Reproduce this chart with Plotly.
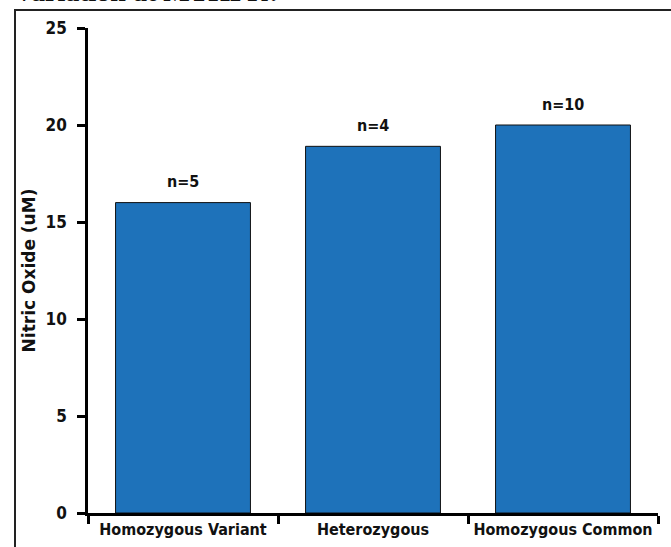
import plotly.graph_objects as go

categories = ["Homozygous Variant", "Heterozygous", "Homozygous Common"]
values = [16.0, 18.9, 20.0]
n_labels = ["n=5", "n=4", "n=10"]
y_ticks = [0, 5, 10, 15, 20, 25]

W, H = 671, 547
L, R, T, B = 88, 13, 28, 34
plot_w = W - L - R
plot_h = H - T - B

narrow = "DejaVu Sans Condensed, Liberation Sans Narrow, Arial Narrow, sans-serif"

fig = go.Figure()
fig.add_trace(go.Bar(
    x=categories, y=values,
    marker=dict(color="#1E72BA", line=dict(color="#111111", width=1)),
    cliponaxis=False,
))

for c, v, t in zip(categories, values, n_labels):
    fig.add_annotation(x=c, y=v, text=t, showarrow=False, yanchor="middle",
                       yshift=21,
                       font=dict(family=narrow, size=16, color="#111111", weight="bold"))

fig.update_layout(
    width=W, height=H,
    margin=dict(l=L, r=R, t=T, b=B, autoexpand=False),
    paper_bgcolor="white", plot_bgcolor="white",
    showlegend=False,
    bargap=0.29,
)

fig.update_yaxes(
    range=[0, 25], tickvals=y_ticks, ticks="outside", ticklen=8, tickwidth=2.5,
    tickcolor="black", showline=True, linecolor="black", linewidth=2.5,
    showgrid=False, zeroline=False, automargin=False, ticklabelstandoff=7,
    tickfont=dict(family=narrow, size=17, color="#111111", weight="bold"),
    title=dict(text="Nitric Oxide (uM)", standoff=6,
               font=dict(family="DejaVu Sans, sans-serif", size=17,
                         color="#111111", weight="bold")),
)
fig.update_xaxes(
    tickson="boundaries", ticks="outside", ticklen=8, tickwidth=2.5, tickcolor="black",
    showline=True, linecolor="black", linewidth=2.5, showgrid=False, automargin=False,
    tickfont=dict(family=narrow, size=16, color="#111111", weight="bold"),
)

# outer frame (partially cropped)
fig.add_shape(type="rect", xref="paper", yref="paper",
              x0=(15 - L) / plot_w, x1=1.2,
              y0=-0.3, y1=(H - B - 10) / plot_h,
              line=dict(color="#222222", width=2), layer="below")

# cropped heading above the frame
fig.add_annotation(text="variation at MTHFR?", xref="paper", yref="paper",
                   x=(15 - L) / plot_w, y=(H - B - 9.5) / plot_h,
                   xanchor="left", yanchor="bottom", showarrow=False,
                   font=dict(family="Liberation Serif, Times New Roman, serif",
                             size=28, color="#111111", weight="bold"))

fig.write_html("out.html", config={"displayModeBar": False},
               post_script="document.body.style.margin='0';")
